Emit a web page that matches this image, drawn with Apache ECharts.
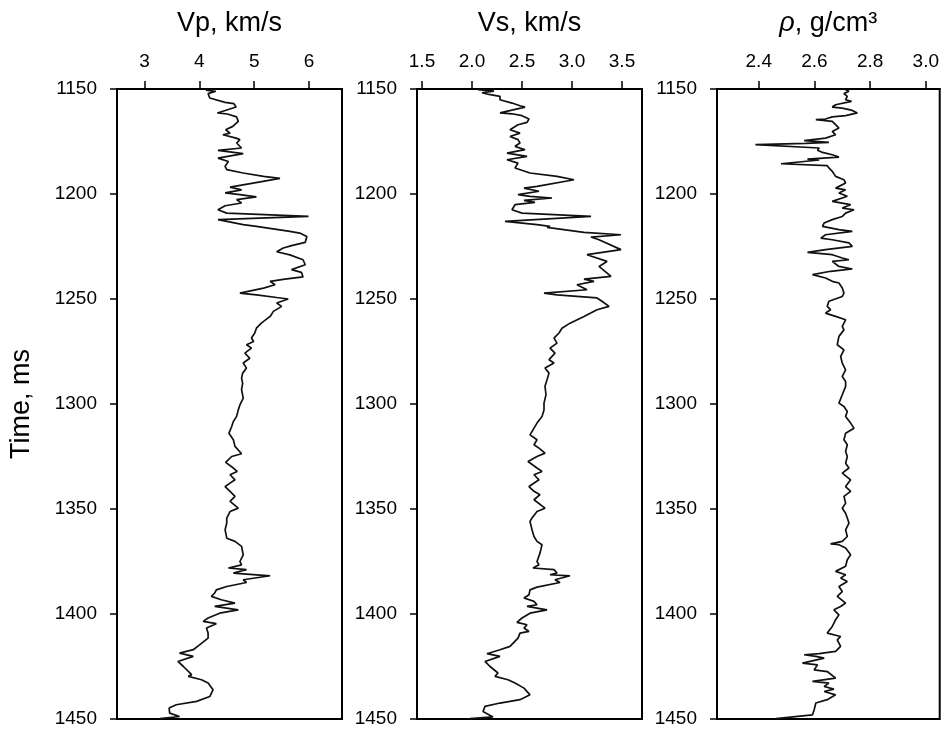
<!DOCTYPE html>
<html>
<head>
<meta charset="utf-8">
<script src="https://cdn.jsdelivr.net/npm/echarts@6/dist/echarts.min.js"></script>
<style>html,body{margin:0;padding:0;background:#fff;}#chart{width:942px;height:731px;}</style>
</head>
<body>
<div id="chart"></div>
<script>
// ---- data ----
const timeTicks = [1150, 1200, 1250, 1300, 1350, 1400, 1450];
const vpTicks = [3, 4, 5, 6];
const vsTicks = [1.5, 2.0, 2.5, 3.0, 3.5];
const rhoTicks = [2.4, 2.6, 2.8, 3.0];

const vpTime = [1150.6,1151.1,1152.2,1154.3,1156.4,1157.0,1158.6,1161.4,1161.9,1163.3,1165.4,1167.8,1169.4,1171.0,1171.8,1173.4,1174.1,1175.7,1178.1,1179.2,1180.8,1182.9,1184.5,1186.8,1188.4,1190.0,1191.6,1192.6,1194.8,1196.7,1198.0,1199.5,1200.3,1201.4,1202.7,1204.3,1205.6,1207.5,1209.1,1210.7,1212.2,1214.6,1215.4,1217.8,1218.6,1220.2,1223.0,1224.6,1225.7,1227.5,1229.0,1231.3,1233.7,1236.0,1237.3,1239.5,1240.5,1241.6,1243.2,1244.8,1247.2,1248.0,1249.3,1250.0,1251.9,1253.5,1255.9,1258.3,1261.5,
1263.9,1266.2,1268.6,1270.2,1271.8,1273.4,1275.8,1278.2,1280.5,1282.9,1285.3,1287.7,1290.1,1293.2,1297.2,1300.4,1302.8,1305.9,1308.3,1310.7,1313.9,1317.0,1320.2,1323.7,1325.0,1327.8,1330.5,1332.1,1333.7,1336.1,1337.7,1339.3,1341.6,1344.0,1346.4,1349.6,1351.2,1354.3,
1356.7,1359.9,1363.9,1365.4,1367.8,1371.8,1375.0,1376.6,1378.1,1378.9,1380.5,1381.8,1383.7,1385.0,1386.9,1388.5,1390.0,1391.6,1393.2,1394.8,1396.4,1398.0,1399.6,1401.9,1403.5,1404.6,1406.7,1409.1,1411.5,1414.6,1417.0,1418.6,1420.2,1422.6,1425.0,1428.9,1429.7,1431.3,1432.9,1436.1,1439.3,1441.6,1443.2,1444.8,1447.2,1448.8,1449.8];
const vpValue = [4.12,4.30,4.16,4.19,4.47,4.63,4.67,4.33,4.51,4.68,4.71,4.61,4.48,4.56,4.43,4.67,4.74,4.68,4.77,4.34,4.80,4.34,4.53,4.47,4.50,4.80,5.17,5.47,4.98,4.56,4.77,4.47,4.74,5.04,4.68,4.77,4.47,4.34,4.50,5.99,4.34,4.80,5.04,5.65,5.83,5.96,5.93,5.68,5.53,5.41,5.65,5.89,5.93,5.68,5.86,5.89,5.56,5.29,5.38,5.17,4.74,5.04,5.41,5.62,5.41,5.50,5.35,5.29,5.13,
5.04,5.01,4.95,4.99,4.86,4.95,4.83,4.92,4.80,4.86,4.79,4.77,4.79,4.77,4.80,4.74,4.71,4.68,4.62,4.59,4.54,4.62,4.65,4.77,4.59,4.48,4.62,4.69,4.56,4.65,4.56,4.47,4.56,4.65,4.56,4.71,4.56,4.50,
4.50,4.47,4.50,4.65,4.77,4.80,4.74,4.77,4.53,4.86,4.62,5.29,4.80,4.86,4.50,4.31,4.28,4.22,4.40,4.65,4.28,4.71,4.37,4.16,4.07,4.31,4.13,4.16,4.16,4.01,3.89,3.64,3.89,3.61,3.71,3.86,3.80,4.04,4.16,4.25,4.19,3.95,3.58,3.45,3.46,3.64,3.28];

const vsTime = [1150.3,1151.0,1151.8,1152.6,1153.5,1155.1,1156.7,1158.0,1158.6,1161.4,1161.8,1162.7,1164.3,1165.9,1167.0,1169.4,1171.0,1172.6,1174.1,1175.7,1177.3,1178.9,1180.5,1182.1,1183.7,1185.3,1187.6,1190.0,1191.6,1193.2,1194.0,1196.4,1197.2,1198.7,1200.3,1201.1,1201.9,1203.0,1204.0,1205.1,1207.5,1209.1,1210.7,1213.0,1214.6,1215.4,1215.9,1218.3,1219.4,1220.5,1221.8,1226.5,1228.9,1232.1,1234.5,1239.2,1240.5,1241.6,1243.2,1245.6,1247.2,1248.0,1249.5,1251.1,1253.5,1255.1,1258.3,1261.5,
1263.9,1266.2,1268.6,1271.0,1273.4,1275.8,1278.9,1280.5,1282.9,1285.3,1288.5,1291.6,1295.6,1299.6,1302.8,1305.9,1309.1,1311.5,1314.7,1317.0,1319.4,1321.0,1323.4,1325.0,1327.4,1330.5,1332.1,1333.7,1336.1,1339.3,1341.6,1343.2,1345.6,1349.6,1351.2,1354.3,
1355.9,1359.9,1363.1,1365.4,1367.0,1371.0,1375.0,1376.6,1378.1,1378.9,1380.5,1381.3,1381.8,1383.7,1385.0,1387.2,1388.5,1390.8,1392.4,1394.0,1395.6,1396.4,1398.0,1399.6,1401.9,1404.0,1405.1,1406.7,1408.3,1409.1,1411.5,1415.4,1417.0,1418.9,1420.2,1422.6,1425.0,1428.1,1429.7,1431.3,1432.9,1435.3,1438.5,1440.8,1442.4,1444.0,1446.4,1449.0,1449.8];
const vsValue = [2.06,2.22,2.10,2.17,2.28,2.28,2.40,2.48,2.53,2.28,2.40,2.50,2.57,2.55,2.46,2.38,2.48,2.38,2.46,2.48,2.43,2.53,2.35,2.55,2.35,2.46,2.43,2.58,2.85,3.02,3.03,2.65,2.52,2.67,2.46,2.58,2.80,2.52,2.63,2.43,2.40,2.50,3.19,2.33,2.65,2.78,2.75,3.12,3.49,3.19,3.27,3.49,3.15,3.35,3.27,3.39,3.12,3.22,3.05,3.15,2.72,2.85,3.25,3.30,3.37,3.25,3.12,2.98,
2.90,2.87,2.82,2.85,2.78,2.83,2.77,2.82,2.73,2.77,2.75,2.73,2.74,2.72,2.72,2.70,2.65,2.62,2.58,2.65,2.62,2.67,2.73,2.65,2.56,2.65,2.70,2.62,2.67,2.57,2.62,2.68,2.62,2.73,2.65,2.60,
2.58,2.60,2.62,2.65,2.70,2.68,2.65,2.67,2.61,2.82,2.85,2.78,2.98,2.83,2.88,2.65,2.58,2.57,2.52,2.62,2.65,2.55,2.75,2.58,2.50,2.45,2.55,2.52,2.57,2.48,2.46,2.38,2.28,2.15,2.28,2.13,2.18,2.26,2.23,2.36,2.43,2.52,2.58,2.48,2.28,2.13,2.11,2.21,1.98];

const rhoTime = [1150.3,1151.1,1152.2,1153.5,1155.1,1155.9,1157.5,1158.6,1159.1,1160.2,1161.4,1162.7,1163.3,1164.3,1164.6,1165.4,1167.0,1168.6,1170.2,1171.8,1173.4,1174.6,1175.4,1175.9,1176.5,1178.1,1179.2,1180.2,1181.3,1182.4,1183.4,1183.8,1185.6,1186.5,1187.6,1189.2,1191.6,1193.2,1194.8,1197.2,1198.0,1199.5,1201.1,1203.5,1205.1,1206.7,1207.5,1209.1,1210.7,1212.2,1213.8,1215.4,1217.0,1217.8,1219.4,1221.0,1221.8,1223.3,1224.9,1226.5,1227.8,1228.9,1230.5,1231.3,1232.1,1234.5,1235.7,1236.8,1238.4,1240.0,1241.6,1242.4,1244.8,1247.2,1248.8,1251.1,1253.5,1255.1,1256.7,1258.3,1259.9,1263.0,
1264.7,1267.8,1271.8,1274.2,1277.4,1280.5,1283.7,1286.9,1289.3,1291.6,1295.6,1299.6,1301.2,1303.6,1305.9,1309.1,1311.5,1313.9,1317.0,1319.4,1322.6,1325.0,1328.2,1330.5,1332.9,1336.1,1339.3,1341.6,1344.0,1347.2,1349.6,1352.0,1354.3,
1356.7,1359.9,1363.1,1365.4,1366.6,1367.0,1368.6,1371.8,1374.2,1377.3,1379.7,1381.3,1382.9,1384.5,1386.9,1389.3,1391.6,1394.8,1396.4,1398.0,1400.4,1402.7,1404.3,1405.9,1409.1,1410.7,1412.3,1415.4,1417.8,1418.9,1419.4,1420.2,1421.0,1423.4,1424.2,1426.6,1427.4,1430.5,1432.1,1432.9,1434.5,1435.8,1436.9,1438.5,1440.8,1442.4,1445.6,1448.0,1449.8];
const rhoValue = [2.712,2.724,2.706,2.718,2.712,2.733,2.676,2.664,2.700,2.736,2.754,2.712,2.664,2.640,2.605,2.664,2.676,2.688,2.664,2.676,2.640,2.563,2.652,2.569,2.388,2.617,2.611,2.629,2.664,2.688,2.575,2.617,2.480,2.646,2.652,2.664,2.676,2.706,2.712,2.676,2.712,2.688,2.718,2.664,2.730,2.700,2.742,2.712,2.700,2.664,2.635,2.629,2.688,2.736,2.640,2.623,2.664,2.724,2.736,2.640,2.575,2.664,2.700,2.724,2.664,2.688,2.736,2.658,2.593,2.640,2.664,2.688,2.700,2.706,2.700,2.652,2.646,2.658,2.640,2.676,2.712,2.700,
2.706,2.688,2.682,2.706,2.694,2.700,2.712,2.700,2.712,2.712,2.700,2.688,2.706,2.718,2.712,2.730,2.742,2.712,2.706,2.718,2.712,2.718,2.712,2.724,2.700,2.730,2.712,2.730,2.706,2.712,2.700,2.712,2.718,
2.724,2.712,2.718,2.700,2.658,2.688,2.712,2.730,2.718,2.712,2.676,2.712,2.694,2.718,2.688,2.700,2.682,2.712,2.694,2.670,2.688,2.676,2.670,2.664,2.646,2.694,2.682,2.694,2.676,2.617,2.563,2.605,2.635,2.557,2.611,2.599,2.646,2.676,2.593,2.652,2.635,2.670,2.635,2.676,2.646,2.605,2.599,2.593,2.462];

// ---- chart ----
const FF = "'Liberation Sans', Arial, Helvetica, sans-serif";
const pairs = (t, v) => t.map((tt, i) => [v[i], tt]);
const grids = [
  {left: 117, top: 89, width: 225, height: 630},
  {left: 417, top: 89, width: 225, height: 630},
  {left: 717, top: 89, width: 225, height: 630}
].map(g => Object.assign(g, {show: true, borderColor: '#000', borderWidth: 2, backgroundColor: 'transparent'}));

function xAx(i, min, max, ticks, dec, name, rich) {
  return {
    gridIndex: i, type: 'value', position: 'top', min, max,
    name, nameLocation: 'middle', nameGap: 52,
    nameTextStyle: Object.assign({fontSize: 27, color: '#000', fontFamily: FF}, rich ? {rich} : {}),
    axisLine: {show: true, onZero: false, lineStyle: {color: '#000', width: 2}},
    axisTick: {show: true, inside: false, length: 8, lineStyle: {color: '#000', width: 1.5}, customValues: ticks},
    axisLabel: {show: true, customValues: ticks, formatter: v => Number(v).toFixed(dec), fontSize: 19, color: '#000', fontFamily: FF, margin: 18},
    splitLine: {show: false}
  };
}
function yAx(i, withName) {
  const a = {
    gridIndex: i, type: 'value', inverse: true, min: 1150, max: 1450, interval: 50,
    axisLine: {show: true, onZero: false, lineStyle: {color: '#000', width: 2}},
    axisTick: {show: true, inside: false, length: 7, lineStyle: {color: '#000', width: 1.5}, customValues: timeTicks},
    axisLabel: {show: true, customValues: timeTicks, formatter: v => String(Math.round(v)), fontSize: 19, color: '#000', fontFamily: FF, margin: 20},
    splitLine: {show: false}
  };
  if (withName) {
    a.name = 'Time, ms'; a.nameLocation = 'middle'; a.nameGap = 82; a.nameRotate = 90;
    a.nameTextStyle = {fontSize: 27, color: '#000', fontFamily: FF};
  }
  return a;
}
const lineSeries = (i, data) => ({
  type: 'line', xAxisIndex: i, yAxisIndex: i, data, symbol: 'none', showSymbol: false,
  smooth: false, clip: true, animation: false,
  lineStyle: {color: '#111', width: 1.7}
});

const chart = echarts.init(document.getElementById('chart'), null, {renderer: 'canvas'});
chart.setOption({
  animation: false,
  backgroundColor: '#fff',
  grid: grids,
  xAxis: [
    xAx(0, 2.5, 6.6, vpTicks, 0, 'Vp, km/s'),
    xAx(1, 1.45, 3.7, vsTicks, 1, 'Vs, km/s'),
    xAx(2, 2.25, 3.05, rhoTicks, 1, '{i|ρ}, g/cm³', {i: {fontStyle: 'italic', fontSize: 27, color: '#000', fontFamily: FF}})
  ],
  yAxis: [yAx(0, true), yAx(1, false), yAx(2, false)],
  series: [
    lineSeries(0, pairs(vpTime, vpValue)),
    lineSeries(1, pairs(vsTime, vsValue)),
    lineSeries(2, pairs(rhoTime, rhoValue))
  ]
});
</script>
</body>
</html>
